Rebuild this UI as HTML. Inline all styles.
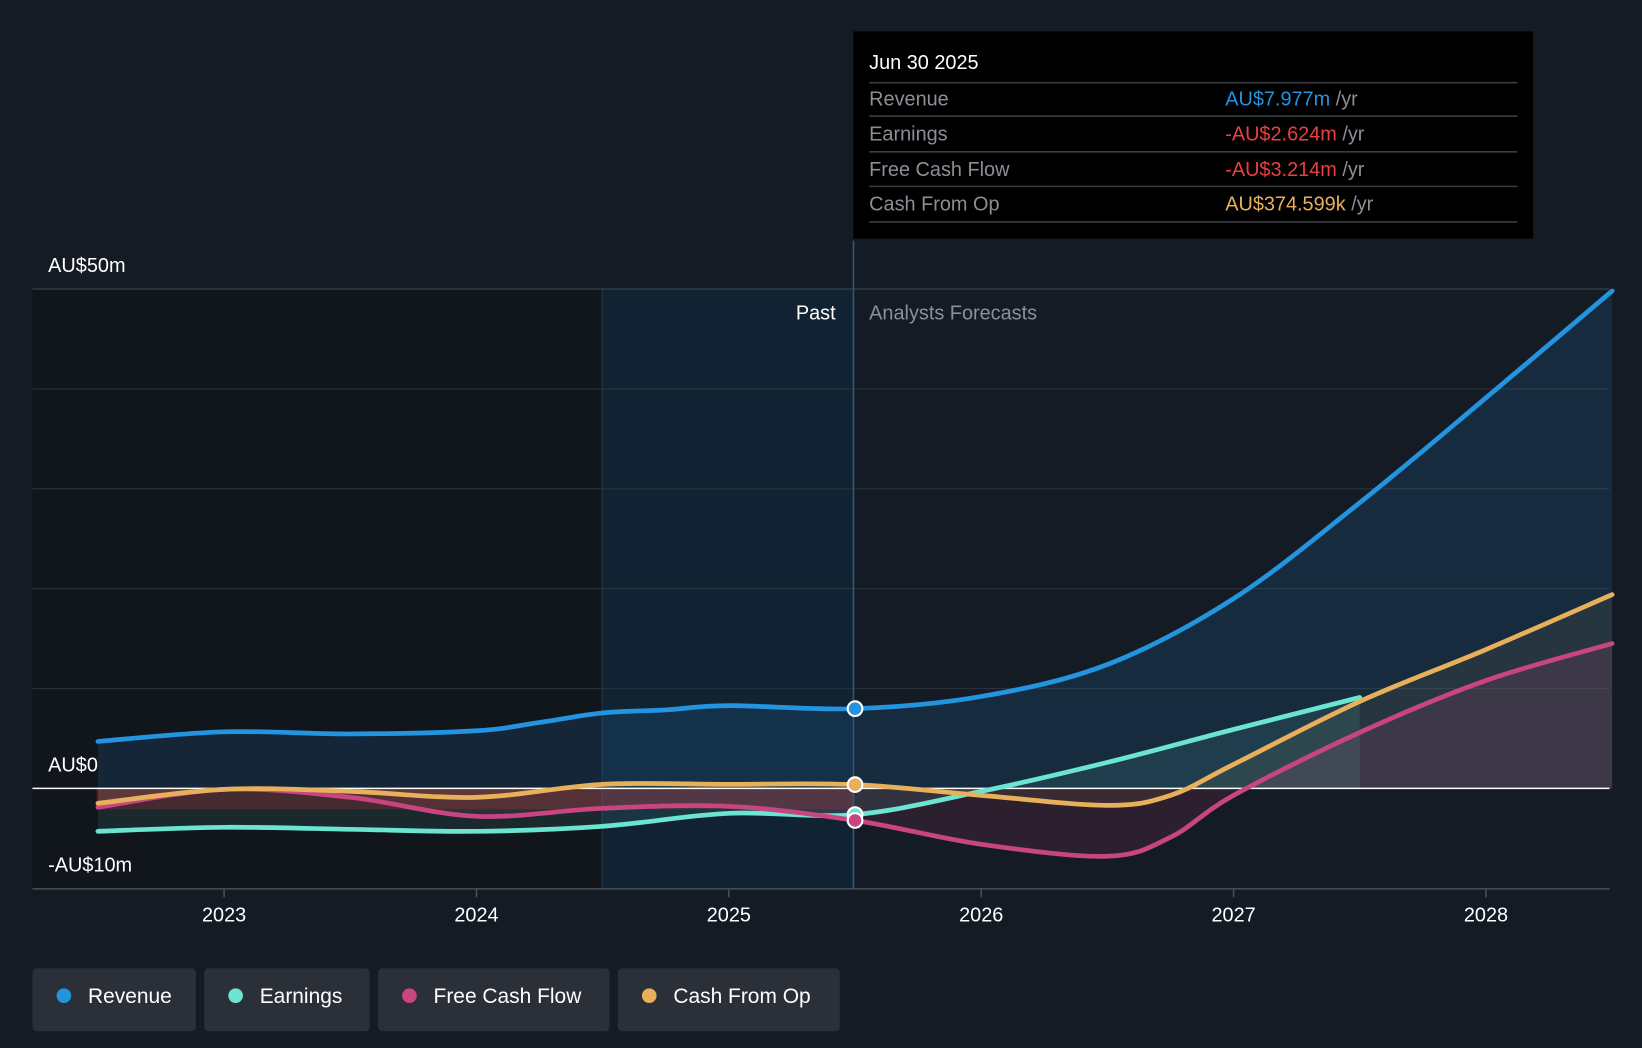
<!DOCTYPE html>
<html><head><meta charset="utf-8"><style>
html,body{margin:0;padding:0;background:#151b24;}
svg{display:block;font-family:"Liberation Sans",sans-serif;}
</style></head><body>
<svg id="chart" width="1642" height="1048" viewBox="0 0 1568 1001" preserveAspectRatio="none" xmlns="http://www.w3.org/2000/svg">
<rect x="0" y="0" width="1568" height="1001" fill="#151b24"/>
<rect x="31" y="276" width="544" height="573" fill="#11151c"/>
<rect x="575" y="276" width="240" height="573" fill="#112233"/>
<line x1="575" y1="276" x2="575" y2="849" stroke="#22384c" stroke-width="1"/>
<g id="grid"></g>
<g id="areas"></g>
<line x1="31" y1="753" x2="1537" y2="753" stroke="#ffffff" stroke-width="1.5"/>
<g id="lines"></g>
<line x1="815" y1="230" x2="815" y2="849" stroke="#2d5a7a" stroke-width="1.5"/>
<text x="798" y="305" fill="#ffffff" font-size="19" text-anchor="end">Past</text>
<text x="830" y="305" fill="#8a9099" font-size="19">Analysts Forecasts</text>
<g id="yticks"></g>
<line x1="31" y1="849" x2="1537" y2="849" stroke="#4a4f58" stroke-width="1.5"/>
<g id="xticks"></g>
<g id="dots"></g>
<g>
<rect x="815" y="30" width="649" height="198" fill="#000000"/>
<text x="830" y="66" fill="#ffffff" font-size="19">Jun 30 2025</text>
<line x1="830" y1="79" x2="1449" y2="79" stroke="#3a3d42" stroke-width="1.5"/>
<text x="830" y="101" fill="#8a8f96" font-size="19">Revenue</text>
<text x="1170" y="101" font-size="19"><tspan fill="#2394df">AU$7.977m</tspan><tspan fill="#8a8f96"> /yr</tspan></text>
<line x1="830" y1="111" x2="1449" y2="111" stroke="#3a3d42" stroke-width="1.5"/>
<text x="830" y="134" fill="#8a8f96" font-size="19">Earnings</text>
<text x="1170" y="134" font-size="19"><tspan fill="#e8413e">-AU$2.624m</tspan><tspan fill="#8a8f96"> /yr</tspan></text>
<line x1="830" y1="145" x2="1449" y2="145" stroke="#3a3d42" stroke-width="1.5"/>
<text x="830" y="168" fill="#8a8f96" font-size="19">Free Cash Flow</text>
<text x="1170" y="168" font-size="19"><tspan fill="#e8413e">-AU$3.214m</tspan><tspan fill="#8a8f96"> /yr</tspan></text>
<line x1="830" y1="178" x2="1449" y2="178" stroke="#3a3d42" stroke-width="1.5"/>
<text x="830" y="201" fill="#8a8f96" font-size="19">Cash From Op</text>
<text x="1170" y="201" font-size="19"><tspan fill="#e8b05a">AU$374.599k</tspan><tspan fill="#8a8f96"> /yr</tspan></text>
<line x1="830" y1="212" x2="1449" y2="212" stroke="#3a3d42" stroke-width="1.5"/>
</g>
<g>
<g><rect x="31" y="925" width="156" height="60" rx="4" fill="#2a2f38"/><circle cx="61" cy="951" r="7" fill="#2394df"/><text x="84" y="958" fill="#fff" font-size="20">Revenue</text></g>
<g><rect x="195" y="925" width="158" height="60" rx="4" fill="#2a2f38"/><circle cx="225" cy="951" r="7" fill="#6be4d2"/><text x="248" y="958" fill="#fff" font-size="20">Earnings</text></g>
<g><rect x="361" y="925" width="221" height="60" rx="4" fill="#2a2f38"/><circle cx="391" cy="951" r="7" fill="#c8457f"/><text x="414" y="958" fill="#fff" font-size="20">Free Cash Flow</text></g>
<g><rect x="590" y="925" width="212" height="60" rx="4" fill="#2a2f38"/><circle cx="620" cy="951" r="7" fill="#e8b05a"/><text x="643" y="958" fill="#fff" font-size="20">Cash From Op</text></g>
</g>
</svg>
<script>
const revT=[2022.5,2023,2023.5,2024,2024.25,2024.5,2024.75,2025,2025.5,2026,2026.5,2027,2027.5,2028,2028.5];
const revV=[4.7,5.66,5.45,5.77,6.6,7.55,7.86,8.28,7.977,9.2,12.4,19,28.6,39.1,49.8];
const earnT=[2022.5,2023,2023.5,2024,2024.5,2025,2025.5,2026,2026.5,2027,2027.5];
const earnV=[-4.3,-3.9,-4.1,-4.3,-3.8,-2.5,-2.624,-0.3,2.6,5.9,9.1];
const fcfT=[2022.5,2023,2023.5,2024,2024.5,2025,2025.5,2026,2026.5,2026.75,2027,2027.5,2028,2028.5];
const fcfV=[-1.9,-0.1,-0.9,-2.8,-2.0,-1.8,-3.214,-5.6,-6.8,-4.9,-0.7,5.6,10.8,14.5];
const cfoT=[2022.5,2023,2023.5,2024,2024.5,2025,2025.5,2026,2026.5,2026.75,2027,2027.5,2028,2028.5];
const cfoV=[-1.5,-0.1,-0.3,-0.9,0.4,0.4,0.3746,-0.7,-1.7,-0.7,2.4,8.7,13.9,19.4];
const yTicks=[50,40,30,20,10,0,-10];
const yLabels={"50":"AU$50m","0":"AU$0","-10":"-AU$10m"};
const xTicks=[2023,2024,2025,2026,2027,2028];
const NS="http://www.w3.org/2000/svg";
const X=t=>214+(t-2023)*241;
const Y=v=>753-v*9.54;
function el(tag,attrs,parent){const e=document.createElementNS(NS,tag);for(const k in attrs)e.setAttribute(k,attrs[k]);parent.appendChild(e);return e;}
function path(ts,vs){const p=ts.map((t,i)=>[X(t),Y(vs[i])]);let d="M"+p[0][0]+","+p[0][1];
for(let i=0;i<p.length-1;i++){const p0=p[i-1]||p[i],p1=p[i],p2=p[i+1],p3=p[i+2]||p2;
const c1x=p1[0]+(p2[0]-p0[0])/6,c1y=p1[1]+(p2[1]-p0[1])/6,c2x=p2[0]-(p3[0]-p1[0])/6,c2y=p2[1]-(p3[1]-p1[1])/6;
d+=" C"+c1x+","+c1y+" "+c2x+","+c2y+" "+p2[0]+","+p2[1];}return d;}
const grid=document.getElementById('grid'),yt=document.getElementById('yticks');
yTicks.forEach(v=>{if(v!==0&&v!==-10){const l=el('line',{x1:31,x2:1537,y1:Y(v),y2:Y(v),stroke:v===50?'#3a4049':'#2a3038','stroke-width':1.2},grid);

}
if(yLabels[v]){const t=el('text',{x:46,y:Y(v)-16,fill:'#fff','font-size':19},yt);t.textContent=yLabels[v];

}});
const xt=document.getElementById('xticks');
xTicks.forEach(y=>{el('line',{x1:X(y),x2:X(y),y1:849,y2:857,stroke:'#4a4f58','stroke-width':1.5},xt);
const t=el('text',{x:X(y),y:880,fill:'#fff','font-size':19,'text-anchor':'middle'},xt);t.textContent=y;

});
const areas=document.getElementById('areas'),lines=document.getElementById('lines');
function area(ts,vs,fill,name){const d=path(ts,vs)+" L"+X(ts[ts.length-1])+","+Y(0)+" L"+X(ts[0])+","+Y(0)+" Z";
const a=el('path',{d:d,fill:fill},areas);

}
area(revT,revV,'rgba(35,110,170,0.2)','revenue-area');
area(fcfT,fcfV,'rgba(200,69,127,0.13)','fcf-area');
area(cfoT,cfoV,'rgba(232,176,90,0.08)','cfo-area');
area(earnT,earnV,'rgba(107,228,210,0.10)','earnings-area');
el('rect',{x:92,y:753,width:723,height:20,fill:'rgba(200,50,50,0.25)'},areas);
function line(ts,vs,c,name){const l=el('path',{d:path(ts,vs),fill:'none',stroke:c,'stroke-width':4.5,'stroke-linecap':'round'},lines);

}
line(earnT,earnV,'#6be4d2','earnings-line');
line(fcfT,fcfV,'#c8457f','free-cash-flow-line');
line(cfoT,cfoV,'#e8b05a','cash-from-op-line');
line(revT,revV,'#2394df','revenue-line');
const dots=document.getElementById('dots');
[[revV[8],'#2394df','revenue-dot'],[cfoV[6],'#e8b05a','cfo-dot'],[earnV[6],'#6be4d2','earnings-dot'],[fcfV[6],'#c8457f','fcf-dot']].forEach(([v,c,n])=>{
const d=el('circle',{cx:X(2025.5),cy:Y(v),r:7,fill:c,stroke:'#fff','stroke-width':2},dots);

});
</script>
</body></html>
